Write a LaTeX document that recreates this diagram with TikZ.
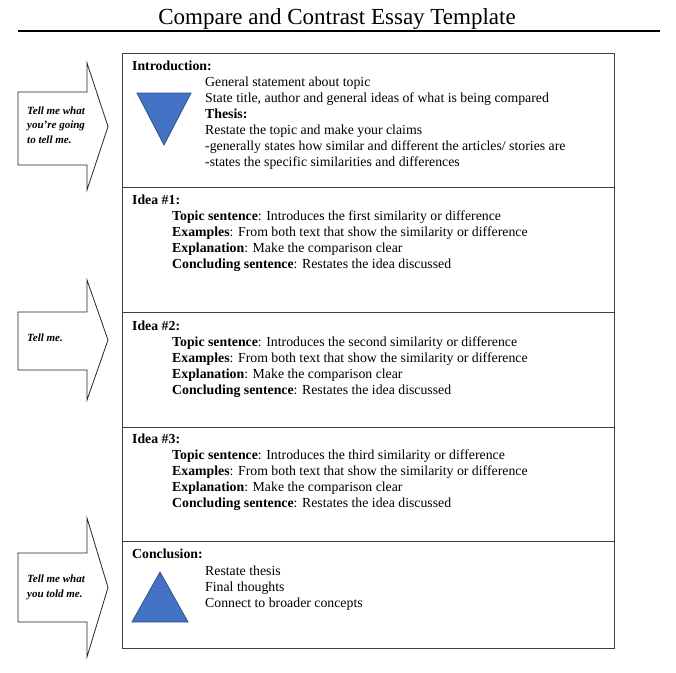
\documentclass[tikz,border=0pt]{standalone}
\usepackage{fontspec}
\setmainfont{Liberation Serif}
\usetikzlibrary{positioning}
\definecolor{triblue}{RGB}{68,114,196}
\definecolor{triedge}{RGB}{47,82,143}
\tikzstyle{section} = [rectangle, anchor=north west, minimum width=492pt, inner sep=0pt, draw=black!75, line width=1.3pt]
\tikzstyle{heading} = [anchor=base west, inner sep=0pt, font=\fontsize{13.8}{16}\selectfont\bfseries]
\tikzstyle{body} = [anchor=base west, inner sep=0pt, align=left, font=\fontsize{13.8}{16}\selectfont]
\tikzstyle{tell} = [draw=black!85, line width=0.8pt, fill=white]
\tikzstyle{telltext} = [anchor=base west, inner sep=0pt, align=left, font=\fontsize{11}{14.5}\selectfont\bfseries\itshape]
\tikzstyle{wedge} = [fill=triblue, draw=triedge, line width=0.8pt]

\begin{document}
\begin{tikzpicture}[x=1pt, y=-1pt]
        \useasboundingbox (0,0) rectangle (676,672);
        \node (title) [anchor=base, inner sep=0pt, font=\fontsize{23}{28}\selectfont] at (337,24) {Compare and Contrast Essay Template};
        \coordinate (ruleL) at (18,31);
        \coordinate (ruleR) at (660,31);
        \draw[line width=1.5pt] (ruleL) -- (ruleR);

        % the five parts of the essay
        \node (intro) [section, minimum height=134pt] at (122,53) {};
        \node (idea1) [section, minimum height=125pt] at (122,187) {};
        \node (idea2) [section, minimum height=115pt] at (122,312) {};
        \node (idea3) [section, minimum height=114pt] at (122,427) {};
        \node (concl) [section, minimum height=107pt] at (122,541) {};

        % text nodes sit on the baseline of their last line
        \node (introhead) [heading] at (132,70) {Introduction:};
        \node (introtext) [body] at (205,166) {General statement about topic\\
                State title, author and general ideas of what is being compared\\
                \textbf{Thesis:}\\
                Restate the topic and make your claims\\
                -generally states how similar and different the articles/ stories are\\
                -states the specific similarities and differences};
        \draw[wedge] (137,93) -- (191,93) -- (164,145) -- cycle;

        \node (idea1head) [heading] at (132,204) {Idea \#1:};
        \node (idea1text) [body] at (172,268) {\textbf{Topic sentence}: Introduces the first similarity or difference\\
                \textbf{Examples}: From both text that show the similarity or difference\\
                \textbf{Explanation}: Make the comparison clear\\
                \textbf{Concluding sentence}: Restates the idea discussed};

        \node (idea2head) [heading] at (132,330) {Idea \#2:};
        \node (idea2text) [body] at (172,394) {\textbf{Topic sentence}: Introduces the second similarity or difference\\
                \textbf{Examples}: From both text that show the similarity or difference\\
                \textbf{Explanation}: Make the comparison clear\\
                \textbf{Concluding sentence}: Restates the idea discussed};

        \node (idea3head) [heading] at (132,443) {Idea \#3:};
        \node (idea3text) [body] at (172,507) {\textbf{Topic sentence}: Introduces the third similarity or difference\\
                \textbf{Examples}: From both text that show the similarity or difference\\
                \textbf{Explanation}: Make the comparison clear\\
                \textbf{Concluding sentence}: Restates the idea discussed};

        \node (conclhead) [heading] at (132,558) {Conclusion:};
        \node (concltext) [body] at (205,607) {Restate thesis\\
                Final thoughts\\
                Connect to broader concepts};
        \draw[wedge] (160,572) -- (188,622) -- (132,622) -- cycle;

        % tell me arrows
        \draw[tell] (18,92) -- (87,92) -- (87,63) -- (108,126.5) -- (87,190) -- (87,165) -- (18,165) -- cycle;
        \node (tell1) [telltext] at (27,143) {Tell me what\\you're going\\to tell me.};
        \draw[tell] (18,312) -- (87,312) -- (87,280) -- (108,340) -- (87,400) -- (87,370) -- (18,370) -- cycle;
        \node (tell2) [telltext] at (27,341) {Tell me.};
        \draw[tell] (18,553) -- (87,553) -- (87,518) -- (108,587.5) -- (87,657) -- (87,622) -- (18,622) -- cycle;
        \node (tell3) [telltext] at (27,597) {Tell me what\\you told me.};
    \end{tikzpicture}
\end{document}
